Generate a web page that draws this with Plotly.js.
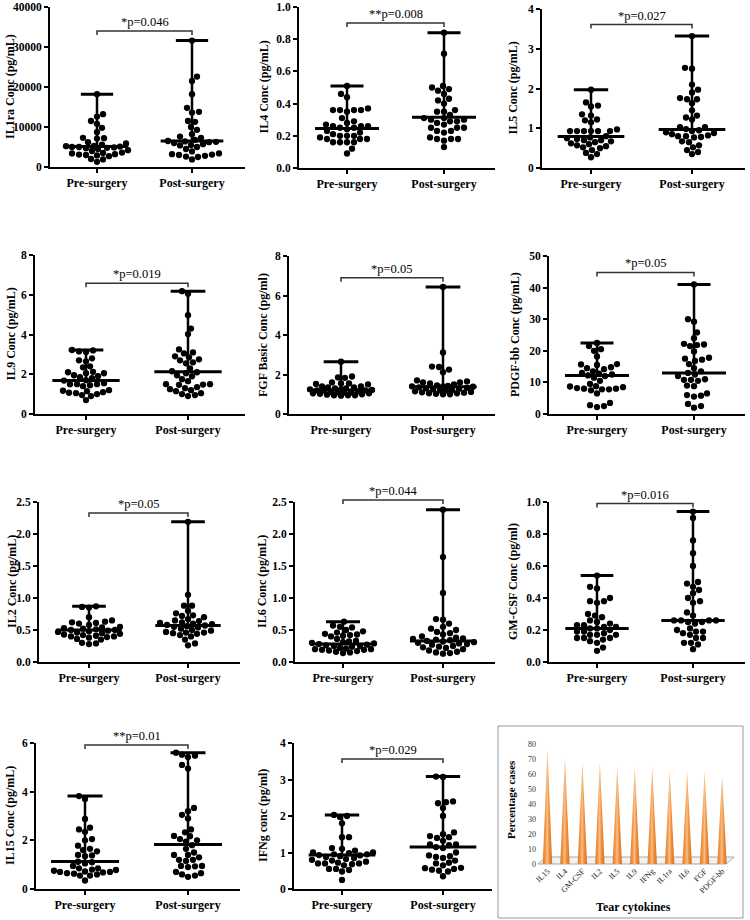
<!DOCTYPE html>
<html><head><meta charset="utf-8">
<script src="https://cdn.plot.ly/plotly-3.0.1.min.js"></script>
<style>html,body{margin:0;padding:0;background:#fff}</style>
</head><body><div id="chart" style="width:750px;height:920px"></div>
<script>
// ---------------- DATA ----------------
const groups = ['Pre-surgery', 'Post-surgery'];

const il1raPre  = [18200,13200,12600,11500,10800,9800,8700,7300,7200,7100,6200,5900,5600,5300,5200,5100,5000,5000,4900,4800,4700,4500,4200,4000,3600,3500,3400,3200,3100,3000,2900,2700,2000,1900,1300];
const il1raPost = [31600,22600,21500,18200,14800,13800,13600,11500,11300,10000,9300,8200,7600,7300,6800,6500,6400,6300,6200,6000,5700,5500,5400,5000,4500,3900,3400,3200,3100,3000,2800,2600,2500,1900];
const il4Pre  = [0.51,0.46,0.44,0.37,0.36,0.36,0.36,0.36,0.35,0.31,0.29,0.28,0.27,0.26,0.26,0.26,0.25,0.25,0.24,0.23,0.22,0.21,0.20,0.20,0.20,0.19,0.18,0.18,0.18,0.16,0.16,0.16,0.16,0.12,0.09];
const il4Post = [0.84,0.71,0.51,0.50,0.49,0.48,0.46,0.43,0.42,0.40,0.36,0.35,0.35,0.33,0.31,0.31,0.30,0.30,0.29,0.29,0.28,0.27,0.25,0.25,0.25,0.23,0.23,0.22,0.19,0.18,0.18,0.18,0.17,0.13];
const il5Pre  = [1.97,1.65,1.57,1.55,1.35,1.32,1.22,1.20,1.15,0.97,0.93,0.93,0.93,0.93,0.93,0.93,0.80,0.77,0.75,0.73,0.70,0.70,0.67,0.65,0.62,0.60,0.57,0.55,0.52,0.50,0.45,0.38,0.35,0.27];
const il5Post = [3.32,2.52,2.50,2.10,1.97,1.90,1.76,1.73,1.73,1.63,1.45,1.32,1.27,1.22,1.03,1.03,0.98,0.95,0.93,0.90,0.88,0.85,0.82,0.80,0.80,0.78,0.77,0.67,0.65,0.57,0.52,0.45,0.40,0.35];
const il9Pre  = [3.22,3.20,3.15,3.12,2.80,2.70,2.65,2.40,2.35,2.12,2.10,2.05,2.05,1.95,1.90,1.85,1.80,1.70,1.68,1.55,1.50,1.50,1.50,1.45,1.40,1.20,1.17,1.15,1.10,1.07,1.05,1.00,0.95,0.90,0.70];
const il9Post = [6.18,6.05,4.97,4.30,4.02,3.25,3.10,3.05,2.90,2.85,2.75,2.70,2.60,2.55,2.30,2.15,2.10,2.05,1.95,1.90,1.75,1.65,1.50,1.50,1.48,1.47,1.35,1.30,1.25,1.20,1.15,1.05,1.00,0.95,0.90];
const fgfPre  = [2.65,1.90,1.85,1.83,1.60,1.55,1.55,1.52,1.50,1.40,1.40,1.35,1.35,1.30,1.30,1.25,1.25,1.22,1.20,1.20,1.18,1.15,1.12,1.10,1.10,1.08,1.05,1.05,1.02,1.00,0.98,0.95,0.95,0.95,0.93];
const fgfPost = [6.43,3.12,2.40,2.38,2.25,2.12,1.70,1.65,1.60,1.60,1.55,1.50,1.45,1.42,1.40,1.40,1.38,1.35,1.32,1.30,1.28,1.25,1.22,1.20,1.18,1.15,1.12,1.10,1.08,1.05,1.05,1.02,1.00,1.00];
const pdgfPre  = [22.5,21.5,20.5,20.0,18.2,15.8,15.7,15.5,14.8,14.5,14.2,13.5,13.0,12.8,12.5,12.2,12.0,11.5,10.5,9.5,8.8,8.7,8.5,8.2,8.0,8.0,7.8,7.8,7.5,6.5,3.5,2.8,2.5,2.2];
const pdgfPost = [41.0,30.0,29.2,25.8,24.0,22.2,22.0,21.8,21.5,19.8,17.8,17.5,17.2,16.8,15.8,14.5,13.5,13.0,12.5,12.0,11.0,10.8,10.8,10.5,9.0,8.8,6.5,6.0,5.8,5.5,3.2,2.5,2.0];
const il2Pre  = [0.87,0.86,0.85,0.70,0.65,0.63,0.62,0.61,0.60,0.58,0.55,0.54,0.53,0.52,0.51,0.50,0.50,0.49,0.48,0.47,0.46,0.45,0.44,0.43,0.42,0.41,0.40,0.40,0.39,0.38,0.36,0.35,0.30,0.29,0.28];
const il2Post = [2.19,1.05,0.88,0.88,0.80,0.76,0.73,0.72,0.70,0.67,0.65,0.64,0.62,0.61,0.60,0.59,0.58,0.57,0.56,0.55,0.54,0.52,0.50,0.49,0.47,0.46,0.46,0.45,0.44,0.42,0.40,0.35,0.29,0.26];
const il6Pre  = [0.63,0.57,0.55,0.54,0.50,0.48,0.46,0.44,0.43,0.42,0.41,0.40,0.36,0.33,0.32,0.31,0.30,0.29,0.28,0.27,0.26,0.25,0.25,0.24,0.22,0.21,0.20,0.20,0.19,0.19,0.18,0.17,0.16,0.15,0.14];
const il6Post = [2.38,1.64,1.08,0.67,0.66,0.60,0.55,0.52,0.50,0.47,0.45,0.43,0.40,0.38,0.37,0.36,0.35,0.34,0.33,0.32,0.31,0.30,0.29,0.28,0.27,0.25,0.24,0.23,0.22,0.20,0.18,0.16,0.15,0.14,0.13];
const gmcsfPre  = [0.54,0.47,0.46,0.40,0.38,0.38,0.37,0.30,0.29,0.28,0.26,0.25,0.24,0.23,0.23,0.22,0.22,0.21,0.21,0.20,0.19,0.19,0.18,0.17,0.17,0.17,0.15,0.15,0.15,0.14,0.13,0.12,0.09,0.07];
const gmcsfPost = [0.94,0.90,0.76,0.68,0.60,0.50,0.49,0.47,0.45,0.43,0.40,0.38,0.37,0.31,0.29,0.26,0.26,0.26,0.26,0.25,0.25,0.24,0.21,0.20,0.19,0.19,0.18,0.17,0.15,0.15,0.12,0.12,0.11,0.08];
const il15Pre  = [3.82,3.70,2.88,2.52,2.45,2.35,2.05,2.00,1.78,1.65,1.60,1.55,1.40,1.38,1.35,1.12,1.10,1.05,0.95,0.85,0.85,0.80,0.78,0.75,0.72,0.70,0.70,0.68,0.65,0.63,0.60,0.55,0.55,0.35];
const il15Post = [5.60,5.52,5.48,5.42,5.10,4.95,3.33,3.20,3.05,2.90,2.45,2.33,2.18,2.17,2.05,2.00,1.95,1.80,1.65,1.50,1.40,1.40,1.30,1.20,1.20,1.15,0.95,0.95,0.93,0.90,0.70,0.65,0.60,0.55,0.50];
const ifngPre  = [2.03,2.00,1.97,1.80,1.42,1.42,1.12,1.10,1.05,1.00,1.00,0.98,0.95,0.95,0.93,0.92,0.90,0.88,0.85,0.82,0.80,0.78,0.75,0.72,0.70,0.70,0.70,0.68,0.65,0.55,0.55,0.52,0.48,0.25];
const ifngPost = [3.08,3.07,2.40,2.38,2.35,2.22,2.00,1.55,1.50,1.45,1.42,1.40,1.32,1.22,1.22,1.20,1.15,1.12,1.00,0.92,0.90,0.88,0.85,0.78,0.72,0.70,0.65,0.58,0.57,0.55,0.53,0.50,0.48,0.35];

// medians [pre, post]
const medians = {
  il1ra:[5150,6500], il4:[0.245,0.315], il5:[0.79,0.97], il9:[1.68,2.12], fgf:[1.22,1.38],
  pdgf:[12.2,13.0], il2:[0.50,0.57], il6:[0.28,0.33], gmcsf:[0.21,0.26], il15:[1.13,1.83], ifng:[0.93,1.15]
};
const pLabels = ['*p=0.046','**p=0.008','*p=0.027','*p=0.019','*p=0.05','*p=0.05','*p=0.05','*p=0.044','*p=0.016','**p=0.01','*p=0.029'];
const bracketLevels = [34000,0.90,3.61,6.58,6.9,44.8,2.33,2.53,0.99,5.92,3.56];
const yTitles = ['IL1ra Conc (pg/mL)','IL4 Conc (pg/mL)','IL5 Conc (pg/mL)','IL9 Conc (pg/mL)','FGF Basic Conc (pg/ml)','PDGF-bb Conc (pg/mL)','IL2 Conc (pg/mL)','IL6 Conc (pg/mL)','GM-CSF Conc (pg/ml)','IL15 Conc (pg/mL)','IFNg conc (pg/ml)'];
const yMaxes = [40000,1.0,4,8,8,50,2.5,2.5,1.0,6,4];
const yDticks = [10000,0.2,1,2,2,10,0.5,0.5,0.2,2,1];
const yFormats = ['d','.1f','d','d','d','d','.1f','.1f','.1f','d','d'];

// inset cone chart
const cytokines = ['IL15','IL4','GM-CSF','IL2','IL5','IL9','IFNg','IL1ra','IL6','FGF','PDGF-bb'];
const percentCases = [76.5,70.6,67.6,67.6,64.7,64.7,64.7,61.8,61.8,61.8,58.8];

// ---------------- LAYOUT CONFIG (pixels) ----------------
const W = 750, H = 920;
const series = [
  [il1raPre,il1raPost,medians.il1ra],[il4Pre,il4Post,medians.il4],[il5Pre,il5Post,medians.il5],
  [il9Pre,il9Post,medians.il9],[fgfPre,fgfPost,medians.fgf],[pdgfPre,pdgfPost,medians.pdgf],
  [il2Pre,il2Post,medians.il2],[il6Pre,il6Post,medians.il6],[gmcsfPre,gmcsfPost,medians.gmcsf],
  [il15Pre,il15Post,medians.il15],[ifngPre,ifngPost,medians.ifng]
];
// [left, right, top, bottom, preX, postX, titleX]
const boxes = [
  [50,245,7,167,97,192,10],[299,495,7,168,347,444,263],[542,745,9,168,591,692,513],
  [35,245,255,414,86,188,10],[289,495,256,414,341,443,263],[549,745,256,414,597,694,515],
  [39,240,502,662,89,188,12],[295,495,502,662,343,443,262],[549,745,502,662,597,693,513],
  [36,240,743,889,85,188,10],[294,492,743,889,342,443,263]
];
const SERIF = 'Liberation Serif';

// beeswarm offsets (px -> category units), width capped like GraphPad scatter columns
function swarm(vals, pxPerUnit, pxPerCat, dist, maxW) {
  const idx = vals.map((v,i)=>i).sort((a,b)=>vals[a]-vals[b]);
  const placed = []; const off = new Array(vals.length);
  let flip = 1;
  const minD = (c,y) => placed.reduce((m,p)=>Math.min(m,Math.hypot(p.x-c,p.y-y)), Infinity);
  for (const i of idx) {
    const y = vals[i]*pxPerUnit;
    let best = null, bestScore = -1, fallback = 0;
    for (let k=0; k<=maxW; k++) {
      const cands = k===0 ? [0] : [flip*k, -flip*k];
      for (const c of cands) {
        const d = minD(c,y);
        if (d >= dist) { best = c; break; }
        if (d > bestScore + 0.5) { bestScore = d; fallback = c; }
      }
      if (best !== null) break;
    }
    if (best === null) best = fallback;
    if (best !== 0) flip = -Math.sign(best);
    placed.push({x:best, y}); off[i] = best/pxPerCat;
  }
  return off;
}

const traces = [], shapes = [], annotations = [];
const layout = {
  width: W, height: H, margin:{l:0,r:0,t:0,b:0}, showlegend:false,
  paper_bgcolor:'#fff', plot_bgcolor:'rgba(0,0,0,0)',
  font:{family:SERIF, color:'#000'}
};
const fx = v=>v/W, fy = v=>1-v/H;

boxes.forEach((b, k) => {
  const [L,R,T,B,px0,px1,tx] = b;
  const n = k+1;
  const xa = 'xaxis'+(n===1?'':n), ya = 'yaxis'+(n===1?'':n);
  const xr = 'x'+(n===1?'':n), yr = 'y'+(n===1?'':n);
  const pxPerCat = px1-px0;
  const x0 = -(px0-L)/pxPerCat, x1 = 1+(R-px1)/pxPerCat;
  const pxPerUnit = (B-T)/yMaxes[k];
  layout[xa] = {domain:[L/W,R/W], range:[x0,x1], anchor:yr, showgrid:false, zeroline:false,
    showline:true, linewidth:2, linecolor:'#000', ticks:'outside', ticklen:4, tickwidth:2, tickcolor:'#000',
    tickvals:[0,1], ticktext:groups, tickfont:{family:SERIF,size:12,weight:'bold',color:'#000'}, fixedrange:true};
  layout[ya] = {domain:[1-B/H,1-T/H], range:[0,yMaxes[k]], anchor:xr, showgrid:false, zeroline:false,
    showline:true, linewidth:2, linecolor:'#000', ticks:'outside', ticklen:4, tickwidth:2, tickcolor:'#000',
    dtick:yDticks[k], tick0:0, tickformat:yFormats[k], tickfont:{family:SERIF,size:11.5,weight:'bold',color:'#000'}, fixedrange:true};
  const [pre, post, med] = series[k];
  [pre, post].forEach((vals, g) => {
    const off = swarm(vals, pxPerUnit, pxPerCat, 6.3, 31);
    traces.push({type:'scatter', mode:'markers', xaxis:xr, yaxis:yr, cliponaxis:false,
      x: vals.map((v,i)=>g+off[i]), y: vals, marker:{size:6.3,color:'#000'}, hoverinfo:'y'});
    const mx = Math.max(...vals);
    traces.push({type:'scatter', mode:'lines', xaxis:xr, yaxis:yr, cliponaxis:false,
      x:[g-0.33,g+0.33], y:[med[g],med[g]], line:{color:'#000',width:3}, hoverinfo:'skip'});
    traces.push({type:'scatter', mode:'lines', xaxis:xr, yaxis:yr, cliponaxis:false,
      x:[g,g], y:[med[g],mx], line:{color:'#000',width:2.5}, hoverinfo:'skip'});
    traces.push({type:'scatter', mode:'lines', xaxis:xr, yaxis:yr, cliponaxis:false,
      x:[g-0.17,g+0.17], y:[mx,mx], line:{color:'#000',width:3}, hoverinfo:'skip'});
  });
  const byPx = B - bracketLevels[k]*pxPerUnit;
  shapes.push({type:'path', xref:'paper', yref:'paper',
    path:`M${fx(px0)},${fy(byPx+4)} L${fx(px0)},${fy(byPx)} L${fx(px1)},${fy(byPx)} L${fx(px1)},${fy(byPx+4)}`,
    line:{color:'#333',width:1.5}});
  annotations.push({xref:'paper', yref:'paper', x:fx((px0+px1)/2), y:fy(byPx), xanchor:'center', yanchor:'bottom',
    showarrow:false, text:pLabels[k], font:{family:SERIF,size:12.5,color:'#000'}});
  annotations.push({xref:'paper', yref:'paper', x:fx(tx), y:fy((T+B)/2), xanchor:'center', yanchor:'middle',
    textangle:-90, showarrow:false, text:yTitles[k], font:{family:SERIF,size:12,weight:'bold',color:'#000'}});
});

// ---------------- INSET ----------------
const iL=537, iR=736, iT=744, iB=864;
const ni = 12;
layout['xaxis'+ni] = {domain:[iL/W,iR/W], range:[-0.6,10.8], anchor:'y'+ni, showgrid:false, zeroline:false,
  showline:false, ticks:'', tickvals:cytokines.map((c,i)=>i), ticktext:cytokines, tickangle:-45,
  tickfont:{family:SERIF,size:8,color:'#222'}, fixedrange:true};
layout['yaxis'+ni] = {domain:[1-iB/H,1-iT/H], range:[0,80], anchor:'x'+ni, showgrid:false, zeroline:false,
  showline:false, ticks:'', dtick:10, tickfont:{family:SERIF,size:8,color:'#333'}, fixedrange:true};
percentCases.forEach((v,i) => {
  traces.push({type:'scatter', mode:'lines', xaxis:'x'+ni, yaxis:'y'+ni, fill:'toself',
    x:[i-0.27,i,i+0.27,i-0.27], y:[0,v,0,0], line:{width:0,color:'rgba(0,0,0,0)'},
    fillcolor:'#ee8c3a',
    fillgradient:{type:'horizontal', colorscale:[[0,'#e27a24'],[0.3,'#f29a4c'],[0.48,'#f9c08a'],[0.68,'#f08d3c'],[1,'#d8721f']]},
    hoverinfo:'skip'});
});
shapes.push({type:'path', xref:'paper', yref:'paper', layer:'below',
  path:`M${fx(538)},${fy(864)} L${fx(726)},${fy(864)} L${fx(734)},${fy(857)} L${fx(546)},${fy(857)} Z`,
  line:{color:'#aaa',width:1}, fillcolor:'#f2f2f2'});
shapes.push({type:'rect', xref:'paper', yref:'paper', x0:fx(498), x1:fx(743), y0:fy(918), y1:fy(726),
  line:{color:'#999',width:1}});
annotations.push({xref:'paper', yref:'paper', x:fx(511), y:fy(800), xanchor:'center', yanchor:'middle',
  textangle:-90, showarrow:false, text:'Percentage cases', font:{family:SERIF,size:11,weight:'bold',color:'#000'}});
annotations.push({xref:'paper', yref:'paper', x:fx(633), y:fy(907), xanchor:'center', yanchor:'middle',
  showarrow:false, text:'Tear cytokines', font:{family:SERIF,size:12,weight:'bold',color:'#000'}});

layout.shapes = shapes; layout.annotations = annotations;
Plotly.newPlot('chart', traces, layout, {staticPlot:true, displayModeBar:false});
</script></body></html>
